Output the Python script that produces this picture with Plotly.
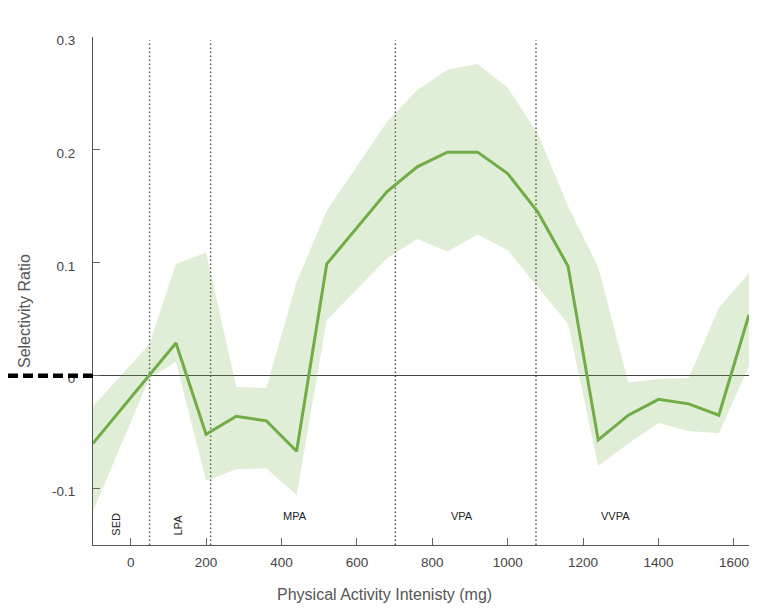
import plotly.graph_objects as go

# ---- data ----
intensity = [-100, 50, 120, 200, 280, 360, 440, 520, 680, 760, 840, 920,
             1000, 1080, 1160, 1240, 1320, 1400, 1480, 1560, 1640]
selectivity = [-0.060, 0.000, 0.029, -0.052, -0.036, -0.040, -0.067, 0.099,
               0.163, 0.185, 0.198, 0.198, 0.179, 0.145, 0.097, -0.057,
               -0.035, -0.021, -0.025, -0.035, 0.054]
upper_ci = [-0.027, 0.028, 0.099, 0.109, -0.010, -0.011, 0.083, 0.146,
            0.225, 0.253, 0.271, 0.276, 0.255, 0.214, 0.150, 0.096,
            -0.006, -0.003, -0.002, 0.060, 0.091]
lower_ci = [-0.120, -0.002, 0.012, -0.093, -0.083, -0.082, -0.106, 0.049,
            0.104, 0.121, 0.110, 0.125, 0.111, 0.078, 0.046, -0.080,
            -0.060, -0.042, -0.049, -0.051, 0.009]

cutpoints = [50, 212, 702, 1075]
zone_labels = ["SED", "LPA", "MPA", "VPA", "VVPA"]
zone_label_x = [-39, 125, 436, 879, 1286]
zone_label_angle = [-90, -90, 0, 0, 0]

x_ticks = [0, 200, 400, 600, 800, 1000, 1200, 1400, 1600]
y_ticks = [0.3, 0.2, 0.1, 0, -0.1]
y_tick_text = ["0.3", "0.2", "0.1", "0", "-0.1"]

FONT = "Liberation Sans, Arial, sans-serif"
GREEN = "#70ad47"

# page has an 8px body margin: figure pixel = page pixel - 8
OFF = 8
L, T, PW, PH = 93 - OFF, 37 - OFF, 656, 508
FW, FH = 759 - 2 * OFF, 616 - 2 * OFF

fig = go.Figure()
fig.add_trace(go.Scatter(x=intensity, y=lower_ci, mode="lines",
                         line=dict(width=0), hoverinfo="skip", showlegend=False))
fig.add_trace(go.Scatter(x=intensity, y=upper_ci, mode="lines", fill="tonexty",
                         fillcolor="rgba(112,173,71,0.22)",
                         line=dict(width=0), hoverinfo="skip", showlegend=False))
fig.add_trace(go.Scatter(x=intensity, y=selectivity, mode="lines",
                         line=dict(color=GREEN, width=3), showlegend=False))

shapes = []
for c in cutpoints:
    shapes.append(dict(type="line", xref="x", yref="y", x0=c, x1=c,
                       y0=-0.15, y1=0.297, layer="below",
                       line=dict(color="#555555", width=1.5, dash="1.5px,2.5px")))
# thick dashed black marker at zero on the left margin
shapes.append(dict(type="line", xref="paper", yref="y", x0=-L / PW, x1=0,
                   y0=0, y1=0, layer="above",
                   line=dict(color="#000000", width=4.5, dash="10px,5px")))

annotations = []
for lab, lx, ang in zip(zone_labels, zone_label_x, zone_label_angle):
    annotations.append(dict(x=lx, y=-0.124 if ang == 0 else -0.132, xref="x", yref="y",
                            text=lab, showarrow=False, textangle=ang,
                            font=dict(family=FONT, size=11, color="#222222"),
                            xanchor="center", yanchor="middle"))
annotations.append(dict(x=(384 - 93) / PW, y=(545 - 594) / PH, xref="paper", yref="paper",
                        text="Physical Activity Intenisty (mg)", showarrow=False,
                        font=dict(family=FONT, size=16, color="#555555"),
                        xanchor="center", yanchor="middle"))
annotations.append(dict(x=(25 - 93) / PW, y=(545 - 311) / PH, xref="paper", yref="paper",
                        text="Selectivity Ratio", showarrow=False, textangle=-90,
                        font=dict(family=FONT, size=16, color="#555555"),
                        xanchor="center", yanchor="middle"))

fig.update_layout(
    width=FW, height=FH,
    margin=dict(l=L, r=FW - L - PW, t=T, b=FH - T - PH, pad=0),
    paper_bgcolor="white", plot_bgcolor="white",
    shapes=shapes, annotations=annotations,
    xaxis=dict(range=[-100, 1640], tickvals=x_ticks, ticks="inside", ticklen=7,
               tickcolor="#666666", showline=True, linecolor="#555555", linewidth=1,
               showgrid=False, zeroline=False, ticklabelstandoff=5,
               tickfont=dict(family=FONT, size=13.5, color="#444444")),
    yaxis=dict(range=[-0.15, 0.3], tickvals=y_ticks, ticktext=y_tick_text,
               ticks="inside", ticklen=7, tickcolor="#666666",
               showline=True, linecolor="#555555", linewidth=1,
               showgrid=False, zeroline=True, zerolinecolor="#444444", zerolinewidth=1,
               ticklabelstandoff=14, ticklabelshift=3,
               tickfont=dict(family=FONT, size=13.5, color="#444444")),
)

fig.write_html("out.html")
